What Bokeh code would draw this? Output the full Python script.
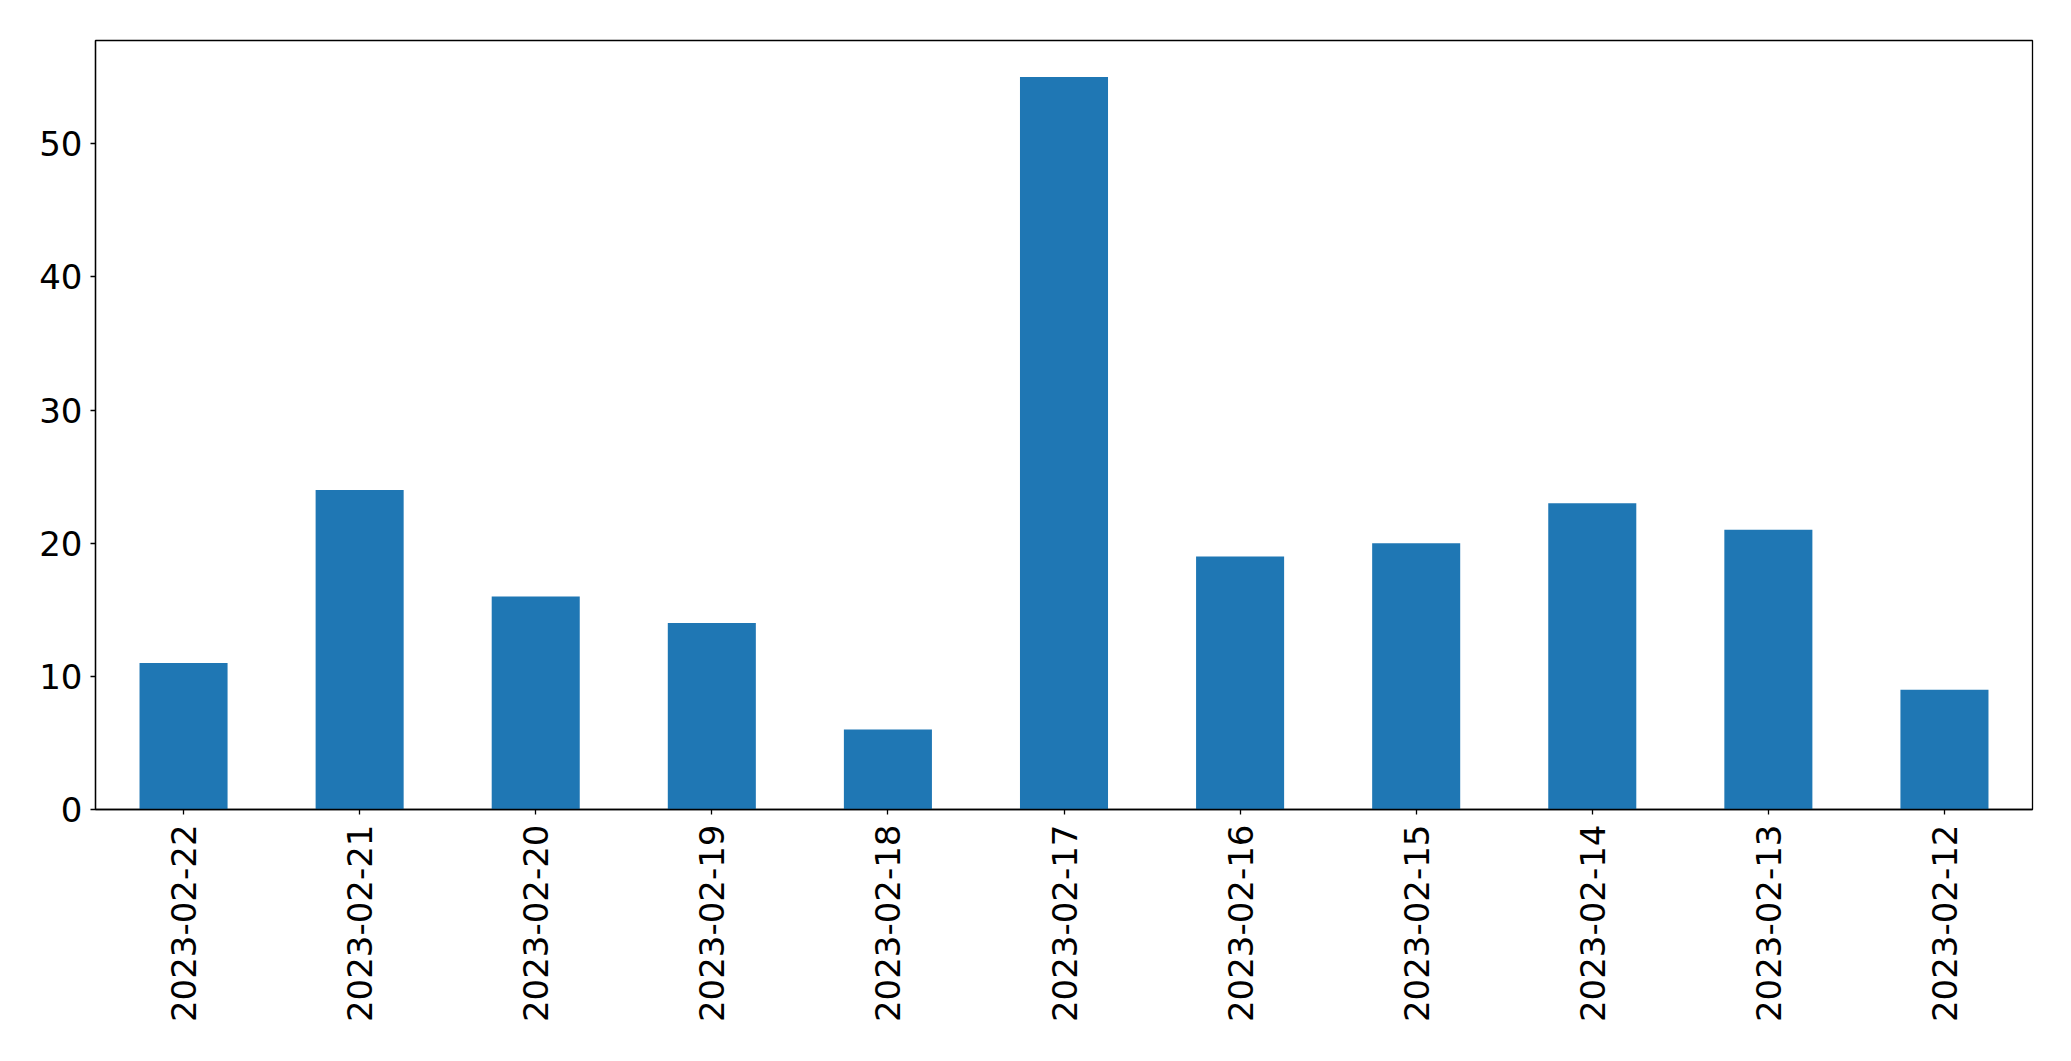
import math
from bokeh.plotting import figure
from bokeh.models import Range1d, FactorRange, FixedTicker
from bokeh.embed import file_html
from bokeh.resources import INLINE

dates = ["2023-02-22", "2023-02-21", "2023-02-20", "2023-02-19", "2023-02-18",
         "2023-02-17", "2023-02-16", "2023-02-15", "2023-02-14", "2023-02-13",
         "2023-02-12"]
counts = [11, 24, 16, 14, 6, 55, 19, 20, 23, 21, 9]
y_ticks = [0, 10, 20, 30, 40, 50]

p = figure(width=2060, height=1053, output_backend="svg", toolbar_location=None,
           x_range=FactorRange(factors=dates),
           y_range=Range1d(0, max(counts) * 1.05),
           min_border_left=95, min_border_top=40, min_border_right=28,
           min_border_bottom=244)

p.vbar(x=dates, top=counts, width=0.5, color="#1f77b4", line_color=None)

p.xgrid.visible = False
p.ygrid.visible = False
p.outline_line_color = "black"
p.outline_line_width = 1.3
p.outline_line_alpha = 1.0

for ax in (p.xaxis, p.yaxis):
    ax.axis_line_color = "black"
    ax.axis_line_width = 1.3
    ax.major_tick_line_color = "black"
    ax.major_tick_line_width = 1.3
    ax.major_tick_in = 0
    ax.major_tick_out = 5
    ax.minor_tick_line_color = None
    ax.major_label_text_font = "DejaVu Sans"
    ax.major_label_text_font_size = "34px"
    ax.major_label_text_color = "black"

p.yaxis.ticker = FixedTicker(ticks=y_ticks)
p.yaxis.major_label_standoff = 8
p.xaxis.major_label_orientation = math.pi / 2
p.xaxis.major_label_standoff = 10
p.xaxis.group_text_font_size = "0px"

open("out.html", "w").write(file_html(p, INLINE))
